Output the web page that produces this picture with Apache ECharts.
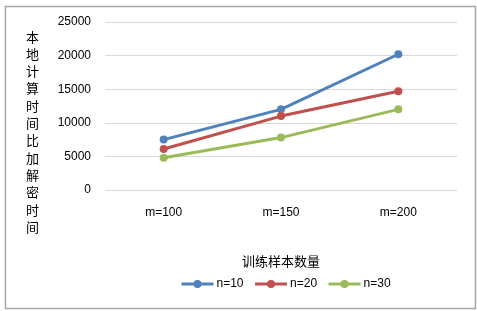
<!DOCTYPE html>
<html>
<head>
<meta charset="utf-8">
<script src="https://cdn.jsdelivr.net/npm/echarts@6/dist/echarts.min.js"></script>
<style>
  html, body { margin: 0; padding: 0; background: #fff; }
  #chart { width: 477px; height: 311px; }
</style>
</head>
<body>
<div id="chart"></div>
<script>
// categories / data
var categories = ['m=100', 'm=150', 'm=200']
var seriesNames = ['n=10', 'n=20', 'n=30']
var n10 = [7500, 12000, 20200]
var n20 = [6100, 11000, 14700]
var n30 = [4800, 7800, 12000]
var yTitle = '本地计算时间比加解密时间'
var xTitle = '训练样本数量'

var colors = ['#4F81BD', '#C0504D', '#9BBB59']
var latin = 'Liberation Sans, Noto Sans CJK SC, sans-serif'

var chart = echarts.init(document.getElementById('chart'))

function lineSeries(name, data, color) {
  return {
    name: name,
    type: 'line',
    data: data,
    symbol: 'circle',
    symbolSize: 8,
    color: color,
    lineStyle: { color: color, width: 3 },
    itemStyle: { color: color },
    animation: false
  }
}

chart.setOption({
  animation: false,
  color: colors,
  grid: {
    left: 105,
    right: 20,
    top: 22,
    bottom: 121
  },
  legend: {
    data: seriesNames,
    left: 175,
    top: 273,
    itemWidth: 32,
    itemHeight: 10,
    itemGap: 10,
    lineStyle: { width: 3 },
    textStyle: { fontFamily: latin, fontSize: 12, color: '#000', padding: [0, 0, 0, -2] }
  },
  xAxis: {
    type: 'category',
    data: categories,
    axisLine: { show: false },
    axisTick: { show: false },
    axisLabel: { margin: 17, fontFamily: latin, fontSize: 12, color: '#000' },
    name: xTitle,
    nameLocation: 'middle',
    nameGap: 65,
    nameTextStyle: { fontFamily: 'Noto Sans CJK SC', fontSize: 13, color: '#000' }
  },
  yAxis: {
    type: 'value',
    min: 0,
    max: 25000,
    interval: 5000,
    axisLine: { show: false },
    axisTick: { show: false },
    axisLabel: {
      margin: 14,
      fontFamily: latin,
      fontSize: 12,
      color: '#000',
      formatter: function(v) { return String(v) }
    },
    splitLine: { lineStyle: { color: '#d9d9d9', width: 1 } }
  },
  graphic: [
    {
      type: 'rect',
      left: 3,
      top: 4,
      shape: { width: 470, height: 302 },
      style: { fill: 'none', stroke: '#a6a6a6', lineWidth: 1.5 },
      silent: true
    },
    {
      type: 'text',
      left: 26,
      top: 28,
      style: {
        text: yTitle.split('').join('\n'),
        fontFamily: 'Noto Sans CJK SC',
        fontSize: 13,
        lineHeight: 17.3,
        fill: '#000'
      }
    }
  ],
  series: [
    lineSeries(seriesNames[0], n10, colors[0]),
    lineSeries(seriesNames[1], n20, colors[1]),
    lineSeries(seriesNames[2], n30, colors[2])
  ]
})
</script>
</body>
</html>
